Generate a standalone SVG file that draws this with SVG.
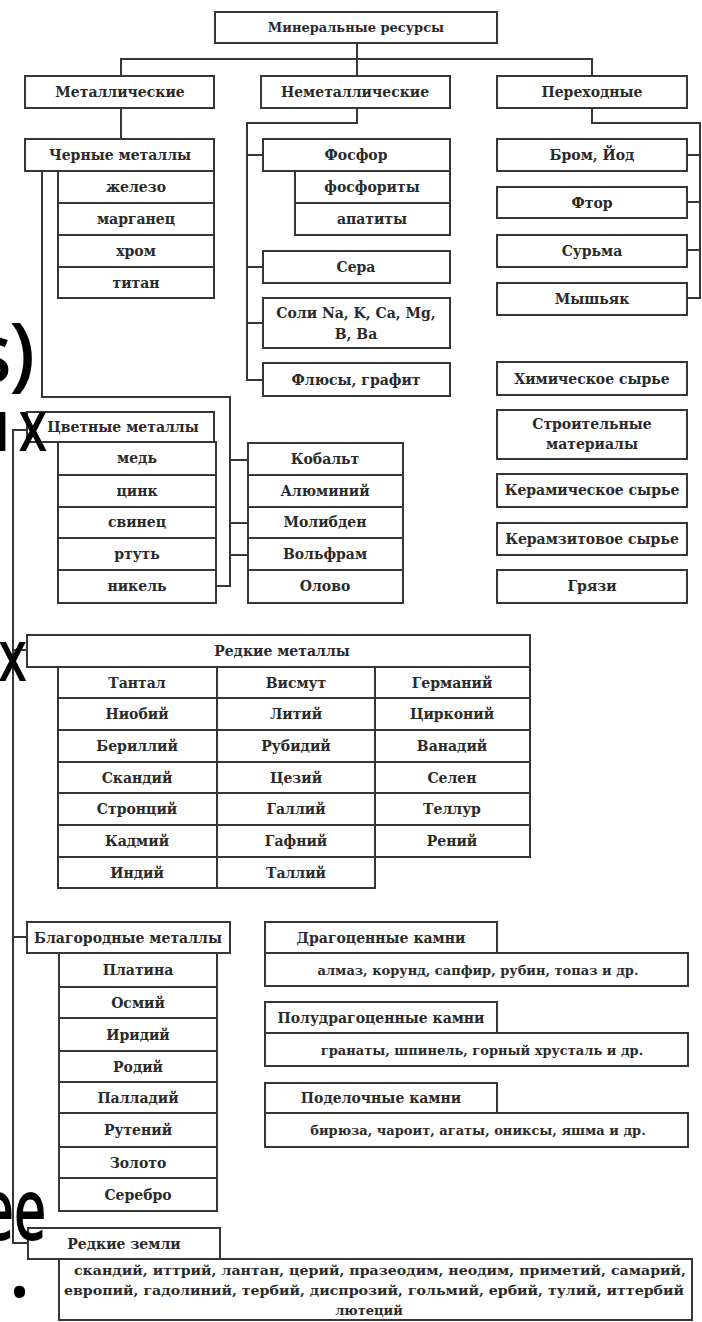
<svg xmlns="http://www.w3.org/2000/svg" width="702" height="1322" viewBox="0 0 702 1322">
<style>
rect.n{fill:none;stroke:#363636;stroke-width:2}
path.c{fill:none;stroke:#363636;stroke-width:2}
text{font-family:"DejaVu Serif","Liberation Serif",serif;font-weight:bold;font-size:14px;fill:#2a2a2a;text-anchor:middle}
text.sm{font-size:13px}
text.ov{font-family:"Open Sans","Noto Sans",sans-serif;font-weight:normal;font-size:70px;fill:#000;stroke:#000;stroke-width:2;text-anchor:end}
</style>
<rect x="0" y="0" width="702" height="1322" fill="#ffffff"/>

<g id="connectors">
<path class="c" d="M357,43 V59 M121,76 V59 H592 V76 M357,59 V76"/>
<path class="c" d="M121,108 V139"/>
<path class="c" d="M42,171 V397 H230 V586 H216 M230,460 H248 M230,523 H248 M230,555 H248"/>
<path class="c" d="M357,108 V123 H247 V380 H263 M247,155 H263 M247,267 H263 M247,323 H263"/>
<path class="c" d="M592,108 V123 H700 V298 H688 M688,155 H700 M688,202 H700 M688,250 H700"/>
<path class="c" d="M27,430 H13 V1243 H28 M13,650 H27 M13,937 H27"/>
</g>

<g id="n-root"><rect class="n" x="215" y="12" width="282" height="31"/><text class="sm" x="356" y="32">Минеральные ресурсы</text></g>
<g id="n-met"><rect class="n" x="25" y="76" width="189" height="32"/><text x="120" y="97">Металлические</text></g>
<g id="n-nonmet"><rect class="n" x="261" y="76" width="189" height="32"/><text x="355" y="97">Неметаллические</text></g>
<g id="n-trans"><rect class="n" x="497" y="76" width="190" height="32"/><text x="592" y="97">Переходные</text></g>

<g id="n-black">
<rect class="n" x="25" y="139" width="189" height="32"/><text x="120" y="160">Черные металлы</text>
<rect class="n" x="58" y="171" width="156" height="32"/><text x="136" y="192">железо</text>
<rect class="n" x="58" y="203" width="156" height="32"/><text x="136" y="224">марганец</text>
<rect class="n" x="58" y="235" width="156" height="32"/><text x="136" y="256">хром</text>
<rect class="n" x="58" y="267" width="156" height="31"/><text x="136" y="288">титан</text>
</g>

<g id="n-phos">
<rect class="n" x="263" y="139" width="187" height="32"/><text x="356" y="160">Фосфор</text>
<rect class="n" x="295" y="171" width="155" height="32"/><text x="372" y="192">фосфориты</text>
<rect class="n" x="295" y="203" width="155" height="32"/><text x="372" y="224">апатиты</text>
</g>
<g id="n-sera"><rect class="n" x="263" y="251" width="187" height="32"/><text x="356" y="272">Сера</text></g>
<g id="n-soli"><rect class="n" x="263" y="298" width="187" height="50"/><text x="356" y="318">Соли Na, K, Ca, Mg,</text><text x="356" y="339">B, Ba</text></g>
<g id="n-flux"><rect class="n" x="263" y="363" width="187" height="33"/><text x="356" y="385">Флюсы, графит</text></g>

<g id="n-brom"><rect class="n" x="497" y="139" width="190" height="32"/><text x="592" y="160">Бром, Йод</text></g>
<g id="n-ftor"><rect class="n" x="497" y="187" width="190" height="31"/><text x="592" y="208">Фтор</text></g>
<g id="n-sb"><rect class="n" x="497" y="235" width="190" height="32"/><text x="592" y="256">Сурьма</text></g>
<g id="n-as"><rect class="n" x="497" y="283" width="190" height="32"/><text x="592" y="304">Мышьяк</text></g>
<g id="n-chem"><rect class="n" x="497" y="362" width="190" height="33"/><text x="592" y="384">Химическое сырье</text></g>
<g id="n-build"><rect class="n" x="497" y="410" width="190" height="49"/><text x="592" y="429">Строительные</text><text x="592" y="449">материалы</text></g>
<g id="n-ceram"><rect class="n" x="497" y="474" width="190" height="33"/><text x="592" y="495">Керамическое сырье</text></g>
<g id="n-keramzit"><rect class="n" x="497" y="523" width="190" height="32"/><text x="592" y="544">Керамзитовое сырье</text></g>
<g id="n-mud"><rect class="n" x="497" y="570" width="190" height="33"/><text x="592" y="591">Грязи</text></g>

<g id="n-color">
<rect class="n" x="27" y="412" width="187" height="30"/><text x="123" y="432">Цветные металлы</text>
<rect class="n" x="58" y="442" width="158" height="33"/><text x="137" y="463">медь</text>
<rect class="n" x="58" y="475" width="158" height="32"/><text x="137" y="496">цинк</text>
<rect class="n" x="58" y="507" width="158" height="31"/><text x="137" y="527">свинец</text>
<rect class="n" x="58" y="538" width="158" height="32"/><text x="137" y="559">ртуть</text>
<rect class="n" x="58" y="570" width="158" height="33"/><text x="137" y="591">никель</text>
</g>
<g id="n-color2">
<rect class="n" x="248" y="443" width="155" height="32"/><text x="325" y="464">Кобальт</text>
<rect class="n" x="248" y="475" width="155" height="32"/><text x="325" y="496">Алюминий</text>
<rect class="n" x="248" y="507" width="155" height="31"/><text x="325" y="527">Молибден</text>
<rect class="n" x="248" y="538" width="155" height="32"/><text x="325" y="559">Вольфрам</text>
<rect class="n" x="248" y="570" width="155" height="33"/><text x="325" y="591">Олово</text>
</g>

<g id="n-rare">
<rect class="n" x="27" y="635" width="503" height="32"/><text x="282" y="656">Редкие металлы</text>
<rect class="n" x="58" y="667" width="159" height="31"/><text x="137" y="688">Тантал</text>
<rect class="n" x="58" y="698" width="159" height="32"/><text x="137" y="719">Ниобий</text>
<rect class="n" x="58" y="730" width="159" height="32"/><text x="137" y="751">Бериллий</text>
<rect class="n" x="58" y="762" width="159" height="31"/><text x="137" y="783">Скандий</text>
<rect class="n" x="58" y="793" width="159" height="32"/><text x="137" y="814">Стронций</text>
<rect class="n" x="58" y="825" width="159" height="32"/><text x="137" y="846">Кадмий</text>
<rect class="n" x="58" y="857" width="159" height="31"/><text x="137" y="878">Индий</text>
<rect class="n" x="217" y="667" width="158" height="31"/><text x="296" y="688">Висмут</text>
<rect class="n" x="217" y="698" width="158" height="32"/><text x="296" y="719">Литий</text>
<rect class="n" x="217" y="730" width="158" height="32"/><text x="296" y="751">Рубидий</text>
<rect class="n" x="217" y="762" width="158" height="31"/><text x="296" y="783">Цезий</text>
<rect class="n" x="217" y="793" width="158" height="32"/><text x="296" y="814">Галлий</text>
<rect class="n" x="217" y="825" width="158" height="32"/><text x="296" y="846">Гафний</text>
<rect class="n" x="217" y="857" width="158" height="31"/><text x="296" y="878">Таллий</text>
<rect class="n" x="375" y="667" width="155" height="31"/><text x="452" y="688">Германий</text>
<rect class="n" x="375" y="698" width="155" height="32"/><text x="452" y="719">Цирконий</text>
<rect class="n" x="375" y="730" width="155" height="32"/><text x="452" y="751">Ванадий</text>
<rect class="n" x="375" y="762" width="155" height="31"/><text x="452" y="783">Селен</text>
<rect class="n" x="375" y="793" width="155" height="32"/><text x="452" y="814">Теллур</text>
<rect class="n" x="375" y="825" width="155" height="32"/><text x="452" y="846">Рений</text>
</g>

<g id="n-noble">
<rect class="n" x="27" y="922" width="203" height="31"/><text x="128" y="943">Благородные металлы</text>
<rect class="n" x="59" y="953" width="158" height="34"/><text x="138" y="975">Платина</text>
<rect class="n" x="59" y="987" width="158" height="31"/><text x="138" y="1008">Осмий</text>
<rect class="n" x="59" y="1018" width="158" height="33"/><text x="138" y="1040">Иридий</text>
<rect class="n" x="59" y="1051" width="158" height="31"/><text x="138" y="1072">Родий</text>
<rect class="n" x="59" y="1082" width="158" height="31"/><text x="138" y="1103">Палладий</text>
<rect class="n" x="59" y="1113" width="158" height="34"/><text x="138" y="1135">Рутений</text>
<rect class="n" x="59" y="1147" width="158" height="31"/><text x="138" y="1168">Золото</text>
<rect class="n" x="59" y="1178" width="158" height="33"/><text x="138" y="1200">Серебро</text>
</g>

<g id="n-gem">
<rect class="n" x="265" y="922" width="232" height="31"/><text x="381" y="943">Драгоценные камни</text>
<rect class="n" x="265" y="953" width="423" height="33"/><text class="sm" x="478" y="975">алмаз, корунд, сапфир, рубин, топаз и др.</text>
</g>
<g id="n-semigem">
<rect class="n" x="265" y="1002" width="232" height="31"/><text x="381" y="1023">Полудрагоценные камни</text>
<rect class="n" x="265" y="1033" width="423" height="33"/><text class="sm" x="482" y="1055">гранаты, шпинель, горный хрусталь и др.</text>
</g>
<g id="n-ornam">
<rect class="n" x="265" y="1083" width="232" height="30"/><text x="381" y="1103">Поделочные камни</text>
<rect class="n" x="265" y="1113" width="423" height="34"/><text class="sm" x="478" y="1135">бирюза, чароит, агаты, ониксы, яшма и др.</text>
</g>

<g id="n-rareearth">
<rect class="n" x="28" y="1228" width="192" height="31"/><text x="124" y="1249">Редкие земли</text>
<rect class="n" x="59" y="1259" width="633" height="61"/>
<text class="sm" x="380" y="1275" textLength="612" lengthAdjust="spacingAndGlyphs">скандий, иттрий, лантан, церий, празеодим, неодим, приметий, самарий,</text>
<text class="sm" x="374" y="1295" textLength="620" lengthAdjust="spacingAndGlyphs">европий, гадолиний, тербий, диспрозий, гольмий, ербий, тулий, иттербий</text>
<text class="sm" x="369" y="1315">лютеций</text>
</g>

<g id="overlay">
<text class="ov" x="34" y="381" style="font-size:78px">s)</text>
<text class="ov" transform="translate(57,450) scale(0.72,1)" x="0" y="0" style="letter-spacing:15px">ых</text>
<text class="ov" transform="translate(26,680) scale(0.72,1)" x="0" y="0">х</text>
<text class="ov" transform="translate(46,1239) scale(0.68,1)" x="0" y="0" style="font-size:84px">ее</text>
<text class="ov" x="9" y="1296" style="text-anchor:start;font-size:80px">.</text>
</g>
</svg>
